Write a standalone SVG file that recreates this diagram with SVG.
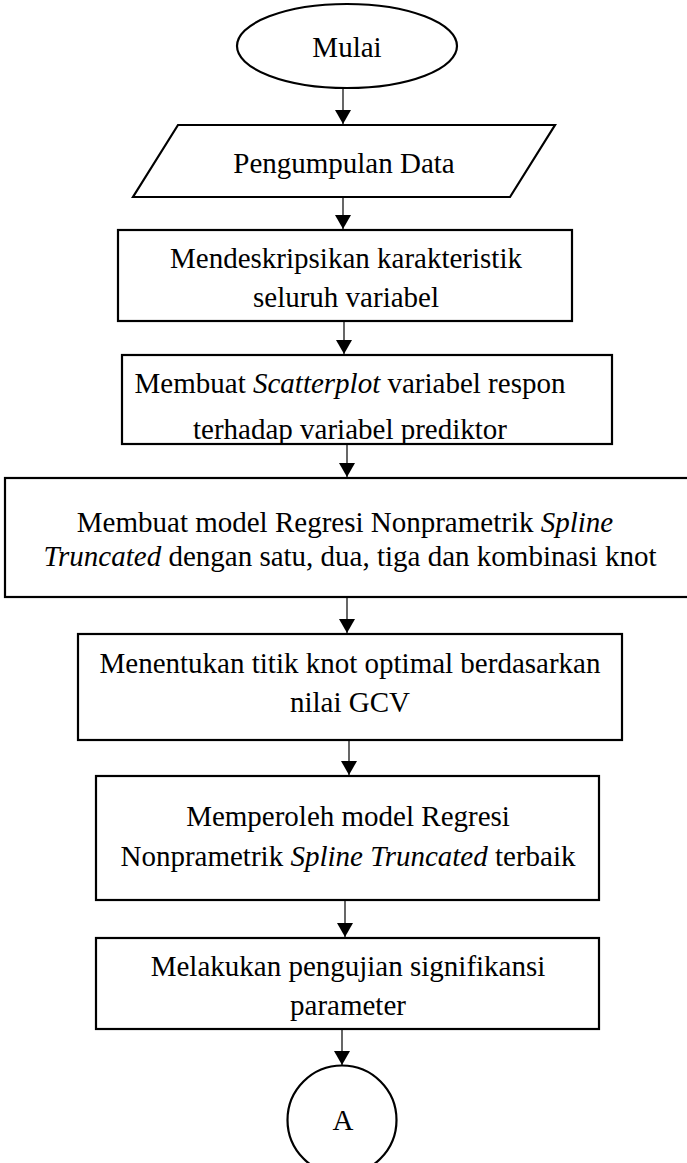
<svg xmlns="http://www.w3.org/2000/svg" width="687" height="1163" viewBox="0 0 687 1163">
<style>
.shape{fill:#fff;stroke:#000;stroke-width:2.2}
.t{font-family:"Liberation Serif","Times New Roman",serif;font-size:29px;fill:#000;text-anchor:middle}
.i{font-style:italic}
.con{stroke:#000;stroke-width:1.2;fill:none}
</style>
<defs>
<marker id="ah" markerUnits="userSpaceOnUse" markerWidth="16" markerHeight="16" refX="14" refY="8" orient="auto">
<path d="M0,0 L14,8 L0,16 Z" fill="#000"/>
</marker>
<clipPath id="c2"><rect x="122" y="355" width="490" height="88"/></clipPath>
</defs>
<rect width="687" height="1163" fill="#fff"/>
<g id="connectors">
<line class="con" x1="343" y1="88" x2="343" y2="124" marker-end="url(#ah)"/>
<line class="con" x1="343" y1="197" x2="343" y2="229" marker-end="url(#ah)"/>
<line class="con" x1="344" y1="321" x2="344" y2="354" marker-end="url(#ah)"/>
<line class="con" x1="347" y1="444" x2="347" y2="477" marker-end="url(#ah)"/>
<line class="con" x1="347" y1="597" x2="347" y2="633" marker-end="url(#ah)"/>
<line class="con" x1="349" y1="740" x2="349" y2="775" marker-end="url(#ah)"/>
<line class="con" x1="345" y1="900" x2="345" y2="937" marker-end="url(#ah)"/>
<line class="con" x1="342" y1="1029" x2="342" y2="1065" marker-end="url(#ah)"/>
</g>
<g id="mulai">
<ellipse class="shape" cx="347" cy="46" rx="110" ry="42"/>
<text class="t" x="347" y="57">Mulai</text>
</g>
<g id="pengumpulan">
<polygon class="shape" points="178,125 555,125 510,197 133,197"/>
<text class="t" x="344" y="173">Pengumpulan Data</text>
</g>
<g id="deskripsi">
<rect class="shape" x="118" y="230" width="454" height="91"/>
<text class="t" x="346" y="268">Mendeskripsikan karakteristik</text>
<text class="t" x="346" y="307">seluruh variabel</text>
</g>
<g id="scatterplot">
<rect class="shape" x="122" y="355" width="490" height="89"/>
<g clip-path="url(#c2)">
<text class="t" x="350" y="393">Membuat <tspan class="i">Scatterplot</tspan> variabel respon</text>
<text class="t" x="350" y="439">terhadap variabel prediktor</text>
</g>
<line x1="122" y1="444" x2="612" y2="444" stroke="#000" stroke-width="2.2"/>
</g>
<g id="model">
<rect class="shape" x="5" y="478" width="690" height="119"/>
<text class="t" x="345" y="532">Membuat model Regresi Nonprametrik <tspan class="i">Spline</tspan></text>
<text class="t" x="350" y="566"><tspan class="i">Truncated</tspan> dengan satu, dua, tiga dan kombinasi knot</text>
</g>
<g id="knot">
<rect class="shape" x="78" y="634" width="544" height="106"/>
<text class="t" x="350" y="673">Menentukan titik knot optimal berdasarkan</text>
<text class="t" x="350" y="712">nilai GCV</text>
</g>
<g id="terbaik">
<rect class="shape" x="96" y="776" width="503" height="124"/>
<text class="t" x="348" y="826">Memperoleh model Regresi</text>
<text class="t" x="348" y="866">Nonprametrik <tspan class="i">Spline Truncated</tspan> terbaik</text>
</g>
<g id="uji">
<rect class="shape" x="96" y="938" width="503" height="91"/>
<text class="t" x="348" y="976">Melakukan pengujian signifikansi</text>
<text class="t" x="348" y="1015">parameter</text>
</g>
<g id="konektor-a">
<circle class="shape" cx="342" cy="1120" r="54.5"/>
<text class="t" x="343" y="1130">A</text>
</g>
</svg>
